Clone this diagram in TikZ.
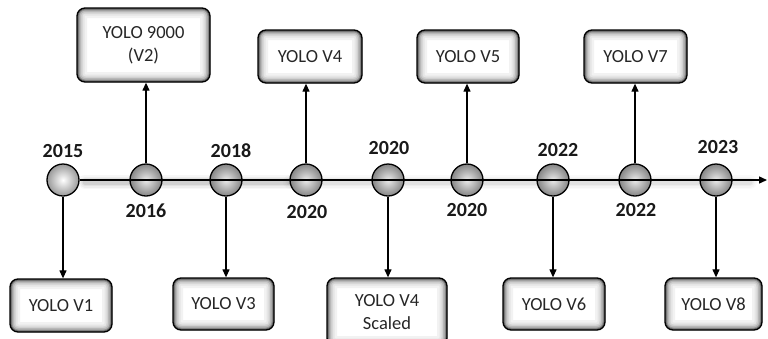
\documentclass[tikz,border=0pt]{standalone}
\usepackage{fontspec}
\setmainfont{Carlito}
\usetikzlibrary{arrows.meta}

\tikzset{
  verbox/.style={draw=black, line width=1.3pt, rounded corners=8pt, fill=white,
    align=center, font=\fontsize{18.5}{23}\selectfont, text=black!85, inner sep=2pt,
    path picture={
      \foreach \w/\c in {20/5,15/10,11/18,8/28,5/42,3/60}{
        \draw[line width=\w pt, draw=black!\c, rounded corners=8pt]
          (path picture bounding box.south west) rectangle (path picture bounding box.north east);
      }}},
  yeardot/.style={circle, draw=black, line width=1.3pt, minimum size=32pt, inner sep=0pt,
    inner color=black!8, outer color=black!48},
  yearlbl/.style={font=\bfseries\fontsize{20}{23}\selectfont, text=black!90},
  link/.style={line width=1.2pt, -{Triangle[length=8pt,width=7pt]}},
}

\begin{document}
\begin{tikzpicture}[x=1pt, y=-1pt]
\useasboundingbox (0,0) rectangle (768,338);

% soft shadow along the time axis, stronger on the left
\foreach \w/\o in {14/0.03,11/0.04,8/0.05,5/0.07}{
  \draw[line width=\w pt, black, opacity=\o, line cap=round] (85,182) -- (290,182);
  \draw[line width=\w pt, black, opacity=0.6*\o, line cap=round] (290,182) -- (750,182);
}

% year dots on the axis
\node[yeardot, inner color=white, outer color=black!40] (c1) at (63,180) {};
\node[yeardot] (c2) at (146,180) {};
\node[yeardot] (c3) at (226,180) {};
\node[yeardot] (c4) at (306,180) {};
\node[yeardot] (c5) at (388,180) {};
\node[yeardot] (c6) at (467,180) {};
\node[yeardot] (c7) at (553,180) {};
\node[yeardot] (c8) at (635,180) {};
\node[yeardot] (c9) at (716,180) {};

% time axis, running through the dots
\coordinate (axisend) at (767,180);
\draw[line width=1.4pt, -{Triangle[length=8pt,width=7pt]}] (c1.east) -- (axisend);

% year labels
\node[yearlbl] (y1) at (63,151) {2015};
\node[yearlbl] (y2) at (146,211) {2016};
\node[yearlbl] (y3) at (231,151) {2018};
\node[yearlbl] (y4) at (307,212) {2020};
\node[yearlbl] (y5) at (389,148) {2020};
\node[yearlbl] (y6) at (467,210) {2020};
\node[yearlbl] (y7) at (558,150) {2022};
\node[yearlbl] (y8) at (636,210) {2022};
\node[yearlbl] (y9) at (718,147) {2023};

% versions above the axis
\node[verbox, minimum width=133pt, minimum height=74pt] (b2) at (143.5,45) {YOLO 9000\\(V2)};
\node[verbox, minimum width=104pt, minimum height=53pt] (b4) at (310,56.5) {YOLO V4};
\node[verbox, minimum width=102pt, minimum height=53pt] (b5) at (468,56.5) {YOLO V5};
\node[verbox, minimum width=103pt, minimum height=53pt] (b7) at (635.5,56.5) {YOLO V7};

% versions below the axis
\node[verbox, minimum width=102pt, minimum height=53pt] (b1) at (61,305.5) {YOLO V1};
\node[verbox, minimum width=101pt, minimum height=52pt] (b3) at (223.5,304) {YOLO V3};
\node[verbox, minimum width=120pt, minimum height=68pt] (b4s) at (387,312) {YOLO V4\\Scaled};
\node[verbox, minimum width=102pt, minimum height=52pt] (b6) at (554,304) {YOLO V6};
\node[verbox, minimum width=97pt, minimum height=52pt] (b8) at (713.5,304) {YOLO V8};

% connectors
\draw[link] (c1.south) -- (c1.south |- b1.north);
\draw[link] (c2.north) -- (c2.north |- b2.south);
\draw[link] (c3.south) -- (c3.south |- b3.north);
\draw[link] (c4.north) -- (c4.north |- b4.south);
\draw[link] (c5.south) -- (c5.south |- b4s.north);
\draw[link] (c6.north) -- (c6.north |- b5.south);
\draw[link] (c7.south) -- (c7.south |- b6.north);
\draw[link] (c8.north) -- (c8.north |- b7.south);
\draw[link] (c9.south) -- (c9.south |- b8.north);
\end{tikzpicture}
\end{document}
